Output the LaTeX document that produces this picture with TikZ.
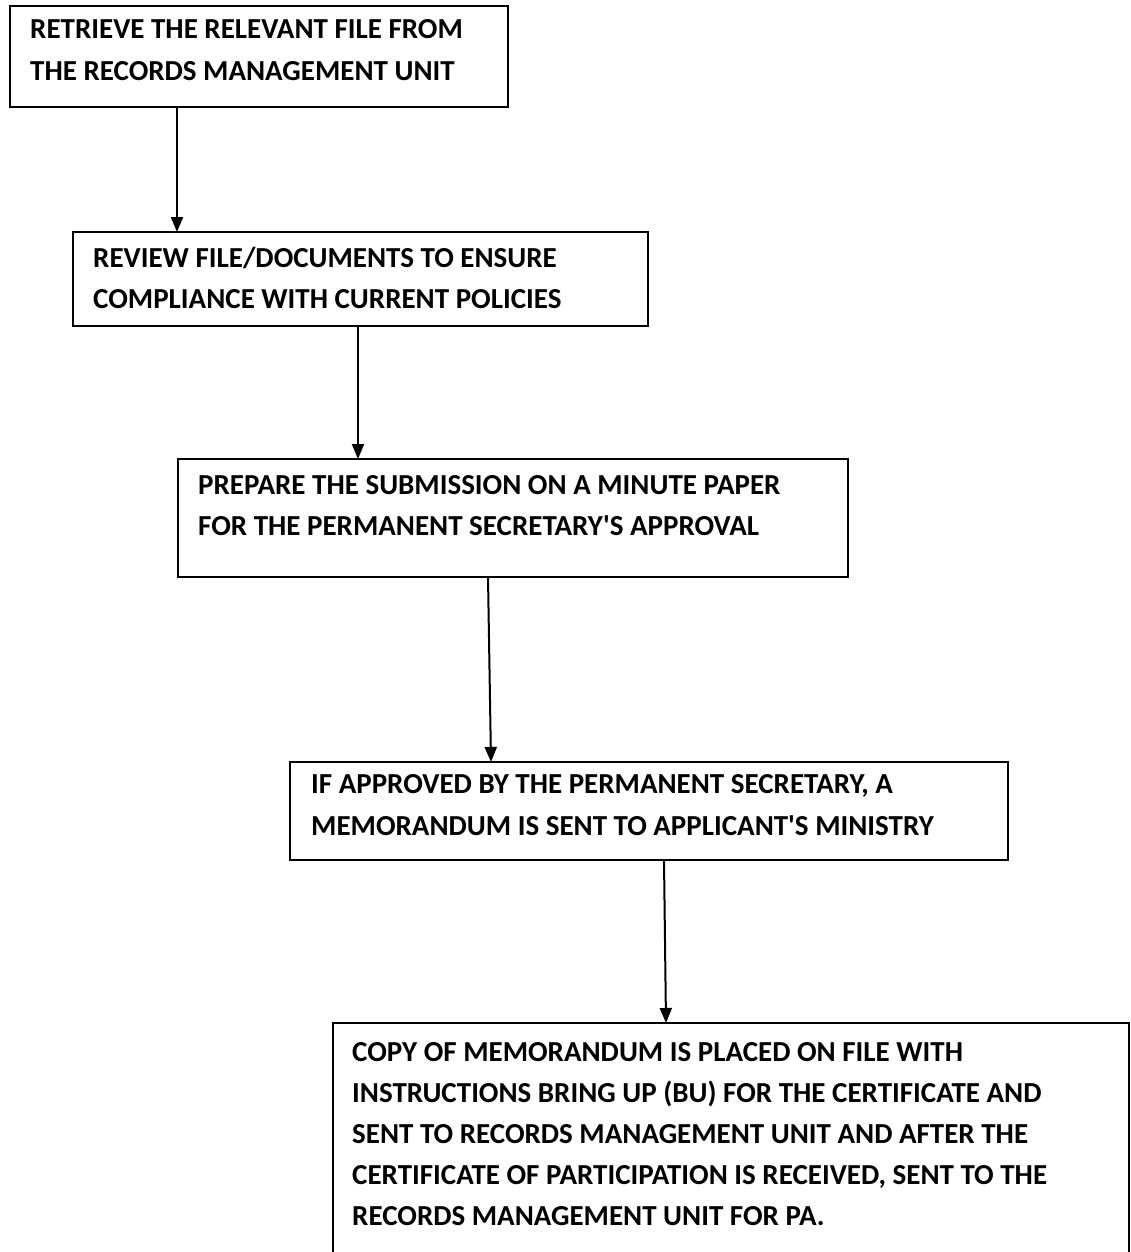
\documentclass[tikz,border=0pt]{standalone}
\usepackage{fontspec}
\setmainfont{Carlito}
\usetikzlibrary{arrows.meta}
\begin{document}
\begin{tikzpicture}[x=1pt,y=-1pt,
  box/.style={draw, line width=2pt, inner sep=0pt, outer sep=0pt, anchor=north west},
  txt/.style={anchor=base west, inner sep=0pt, font=\fontsize{29}{30}\selectfont\bfseries},
  arr/.style={line width=2pt, -{Triangle[length=15pt, width=12pt]}}]
\useasboundingbox (0,0) rectangle (1131,1252);
\fill[white] (0,0) rectangle (1131,1252);
% boxes
\node[box, minimum width=498pt, minimum height=101pt] (b1) at (10,6) {};
\node[box, minimum width=575pt, minimum height=94pt] (b2) at (73,232) {};
\node[box, minimum width=670pt, minimum height=118pt] (b3) at (178,459) {};
\node[box, minimum width=718pt, minimum height=98pt] (b4) at (290,762) {};
\node[box, minimum width=796pt, minimum height=340pt] (b5) at (333,1023) {};
% texts
\node[txt] (t1a) at (30,39) {RETRIEVE THE RELEVANT FILE FROM};
\node[txt] (t1b) at (30,81) {THE RECORDS MANAGEMENT UNIT};
\node[txt] (t2a) at (93,267) {REVIEW FILE/DOCUMENTS TO ENSURE};
\node[txt] (t2b) at (93,308) {COMPLIANCE WITH CURRENT POLICIES};
\node[txt] (t3a) at (198,494) {PREPARE THE SUBMISSION ON A MINUTE PAPER};
\node[txt] (t3b) at (198,535) {FOR THE PERMANENT SECRETARY\textquotesingle S APPROVAL};
\node[txt] (t4a) at (311,793) {IF APPROVED BY THE PERMANENT SECRETARY, A};
\node[txt] (t4b) at (311,835) {MEMORANDUM IS SENT TO APPLICANT\textquotesingle S MINISTRY};
\node[txt] (t5a) at (352,1061) {COPY OF MEMORANDUM IS PLACED ON FILE WITH};
\node[txt] (t5b) at (352,1102) {INSTRUCTIONS BRING UP (BU) FOR THE CERTIFICATE AND};
\node[txt] (t5c) at (352,1143) {SENT TO RECORDS MANAGEMENT UNIT AND AFTER THE};
\node[txt] (t5d) at (352,1184) {CERTIFICATE OF PARTICIPATION IS RECEIVED, SENT TO THE};
\node[txt] (t5e) at (352,1225) {RECORDS MANAGEMENT UNIT FOR PA.};
% connectors
\coordinate (c1) at (177,0);
\coordinate (c2) at (358,0);
\coordinate (c3s) at (488,0);
\coordinate (c3e) at (491,0);
\coordinate (c4s) at (664,0);
\coordinate (c4e) at (666,0);
\draw[arr] (c1 |- b1.south) -- (c1 |- b2.north);
\draw[arr] (c2 |- b2.south) -- (c2 |- b3.north);
\draw[arr] (c3s |- b3.south) -- (c3e |- b4.north);
\draw[arr] (c4s |- b4.south) -- (c4e |- b5.north);
\end{tikzpicture}
\end{document}
